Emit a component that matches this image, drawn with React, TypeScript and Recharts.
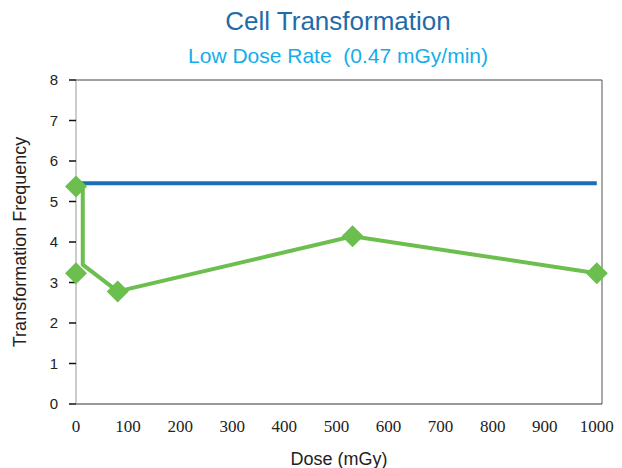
import React from 'react';
import {
  ComposedChart,
  Line,
  Scatter,
  XAxis,
  YAxis,
  ReferenceLine,
  Label,
} from 'recharts';

// dose (mGy) ticks and frequency ticks
const doseTicks = [0, 100, 200, 300, 400, 500, 600, 700, 800, 900, 1000];
const freqTicks = [0, 1, 2, 3, 4, 5, 6, 7, 8];

// control level (blue line)
const controlLine = [
  { x: 0, y: 5.45 },
  { x: 1000, y: 5.45 },
];

// low dose rate path (green line)
const lowRateLine = [
  { x: 0, y: 5.37 },
  { x: 13, y: 5.37 },
  { x: 13, y: 3.44 },
  { x: 80, y: 2.78 },
  { x: 531, y: 4.14 },
  { x: 1000, y: 3.23 },
];

// measured points (green diamonds)
const lowRatePoints = [
  { x: 0, y: 5.37 },
  { x: 0, y: 3.23 },
  { x: 80, y: 2.78 },
  { x: 531, y: 4.14 },
  { x: 1000, y: 3.23 },
];

const GREEN = '#6CBF4F';
const BLUE = '#1B6FB8';

const Diamond = (props: any) => {
  const { cx, cy } = props;
  const r = 11;
  return (
    <polygon
      points={`${cx},${cy - r} ${cx + r},${cy} ${cx},${cy + r} ${cx - r},${cy}`}
      fill={GREEN}
    />
  );
};

export default function App() {
  return (
    <div style={{ position: 'absolute', left: 0, top: 0, width: 622, height: 468, background: '#fff', fontFamily: '"Liberation Sans", Arial, sans-serif' }}>
      <div style={{ position: 'absolute', left: 0, width: 676, top: 6, textAlign: 'center', fontSize: 26, color: '#1F6BAA' }}>
        Cell Transformation
      </div>
      <div style={{ position: 'absolute', left: 0, width: 676, top: 44, textAlign: 'center', fontSize: 21, color: '#12AEEA', whiteSpace: 'pre' }}>
        {'Low Dose Rate  (0.47 mGy/min)'}
      </div>
      <ComposedChart width={622} height={468} margin={{ top: 80, right: 20, bottom: 34, left: 0 }}>
        <XAxis
          type="number"
          dataKey="x"
          domain={[0, 1010]}
          ticks={doseTicks}
          tickLine={false}
          axisLine={{ stroke: '#333' }}
          tick={{ fill: '#222', fontSize: 17, fontFamily: '"Liberation Serif", "Times New Roman", serif' }}
          tickMargin={10}
        >
          <Label value="Dose (mGy)" position="bottom" offset={18} style={{ fill: '#222', fontSize: 18 }} />
        </XAxis>
        <YAxis
          type="number"
          dataKey="y"
          domain={[0, 8]}
          ticks={freqTicks}
          width={76}
          tickSize={7}
          tickLine={{ stroke: '#111', strokeWidth: 1.5 }}
          axisLine={{ stroke: '#999' }}
          tick={{ fill: '#222', fontSize: 15 }}
          tickMargin={11}
        >
          <Label
            value="Transformation Frequency"
            angle={-90}
            position="insideLeft"
            offset={20}
            style={{ textAnchor: 'middle', fill: '#222', fontSize: 18 }}
          />
        </YAxis>
        <ReferenceLine y={8} stroke="#444" />
        <ReferenceLine x={1010} stroke="#555" />
        <Line
          data={controlLine}
          dataKey="y"
          stroke={BLUE}
          strokeWidth={4}
          dot={false}
          isAnimationActive={false}
        />
        <Line
          data={lowRateLine}
          dataKey="y"
          type="linear"
          stroke={GREEN}
          strokeWidth={4}
          dot={false}
          isAnimationActive={false}
        />
        <Scatter data={lowRatePoints} dataKey="y" shape={<Diamond />} isAnimationActive={false} />
      </ComposedChart>
    </div>
  );
}
